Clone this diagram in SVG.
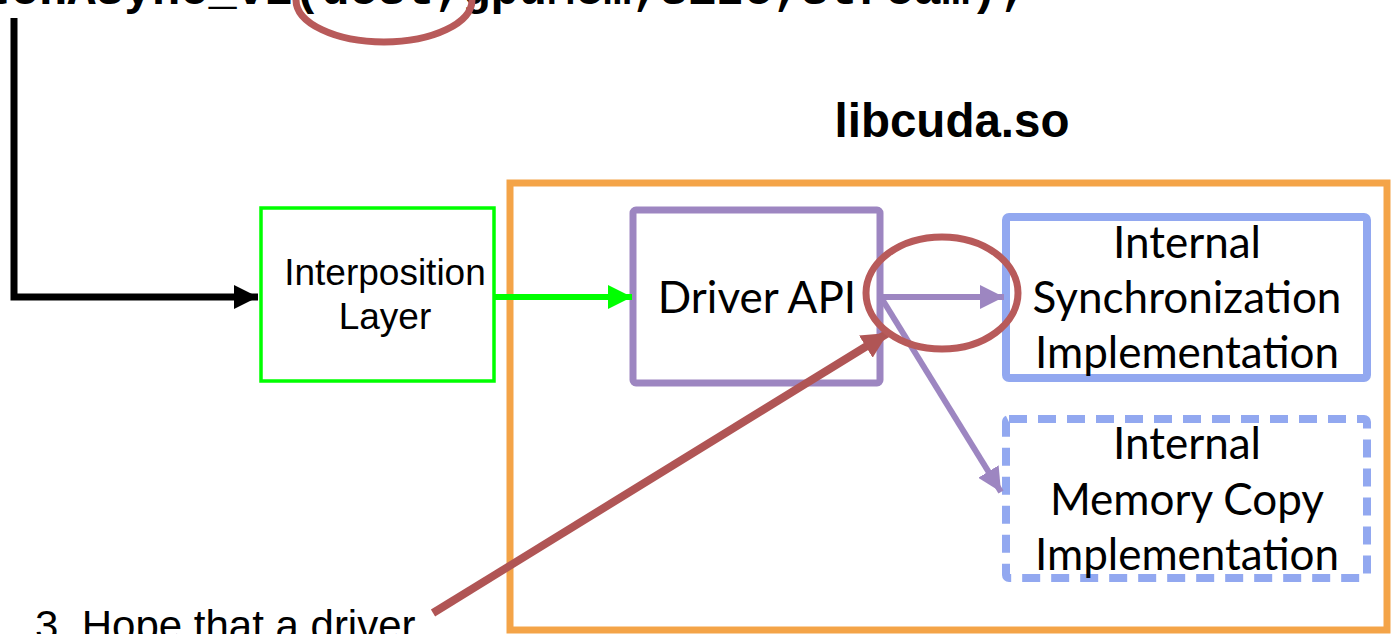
<svg xmlns="http://www.w3.org/2000/svg" width="1394" height="634" viewBox="0 0 1394 634">
  <defs>
    <style>
      .code { font-family: "Liberation Mono", "Courier New", monospace; font-weight: bold; font-size: 47px; fill: #000; }
      .sans { font-family: "Liberation Sans", Arial, sans-serif; fill: #000; }
      .gill { font-family: Lato, "Open Sans", sans-serif; font-size: 44px; fill: #000; text-anchor: middle; }
      .hl { fill: none; stroke: #b85a5a; stroke-width: 7; }
      .purple { stroke: #9d86c1; stroke-width: 6; fill: none; }
      .blue { fill: none; stroke: #92a8f0; stroke-width: 8; }
    </style>
    <marker id="ah-black" viewBox="0 0 24 24" refX="24" refY="12" markerUnits="userSpaceOnUse" markerWidth="24" markerHeight="24" orient="auto">
      <path d="M0,0 L24,12 L0,24 Z" fill="#000"/>
    </marker>
    <marker id="ah-green" viewBox="0 0 24 24" refX="24" refY="12" markerUnits="userSpaceOnUse" markerWidth="24" markerHeight="24" orient="auto">
      <path d="M0,0 L24,12 L0,24 Z" fill="#00ff00"/>
    </marker>
    <marker id="ah-purple" viewBox="0 0 24 24" refX="24" refY="12" markerUnits="userSpaceOnUse" markerWidth="24" markerHeight="24" orient="auto">
      <path d="M0,0 L24,12 L0,24 Z" fill="#9d86c1"/>
    </marker>
    <marker id="ah-red" viewBox="0 0 26 26" refX="26" refY="13" markerUnits="userSpaceOnUse" markerWidth="26" markerHeight="26" orient="auto">
      <path d="M0,0 L26,13 L0,26 Z" fill="#b05555"/>
    </marker>
  </defs>

  <rect width="1394" height="634" fill="#fff"/>

  <!-- API call, running off the top edge -->
  <text class="code" x="-271" y="4">cuMemcpyDtoHAsync_v2(dest,gpuMem,size,stream);</text>
  <ellipse class="hl" cx="384" cy="0" rx="88" ry="42"/>

  <!-- libcuda.so container -->
  <g id="libcuda">
    <rect x="510" y="183" width="877" height="447" fill="none" stroke="#f4a448" stroke-width="7"/>
    <text class="sans" x="952" y="137" font-size="47.5" font-weight="bold" text-anchor="middle">libcuda.so</text>
  </g>

  <g id="interposition">
    <rect x="261" y="208" width="233" height="173" fill="none" stroke="#00ff00" stroke-width="3.5"/>
    <text class="sans" font-size="37" text-anchor="middle" x="385" y="285">Interposition</text>
    <text class="sans" font-size="37" text-anchor="middle" x="385" y="329">Layer</text>
  </g>

  <g id="driver-api">
    <rect x="633" y="210" width="247" height="173" rx="3" fill="none" stroke="#9d86c1" stroke-width="7"/>
    <text class="gill" x="757" y="313" font-size="45.5">Driver API</text>
  </g>

  <g id="sync-impl">
    <rect class="blue" x="1006" y="217" width="361" height="161" rx="3"/>
    <text class="gill" x="1187" y="258">Internal</text>
    <text class="gill" x="1187" y="313">Synchronization</text>
    <text class="gill" x="1187" y="368">Implementation</text>
  </g>

  <g id="memcpy-impl">
    <rect class="blue" x="1006" y="419" width="361" height="159" rx="3" stroke-dasharray="18 11"/>
    <text class="gill" x="1187" y="459">Internal</text>
    <text class="gill" x="1187" y="515">Memory Copy</text>
    <text class="gill" x="1187" y="570">Implementation</text>
  </g>

  <g id="connectors">
    <path d="M14,18 L14,297 L258,297" fill="none" stroke="#000" stroke-width="7" marker-end="url(#ah-black)"/>
    <line x1="494" y1="297" x2="632" y2="297" stroke="#00ff00" stroke-width="6" marker-end="url(#ah-green)"/>
    <line class="purple" x1="880" y1="297" x2="1004" y2="297" marker-end="url(#ah-purple)"/>
    <line class="purple" x1="882" y1="299" x2="1001" y2="492" marker-end="url(#ah-purple)"/>
    <line x1="433" y1="613" x2="888" y2="333" stroke="#b05555" stroke-width="8" marker-end="url(#ah-red)"/>
  </g>

  <!-- highlight around the driver dispatch point -->
  <ellipse class="hl" cx="942" cy="293" rx="76" ry="56"/>

  <g id="note">
    <text class="sans" font-size="42" x="35" y="640">3. Hope that a driver</text>
  </g>
</svg>
